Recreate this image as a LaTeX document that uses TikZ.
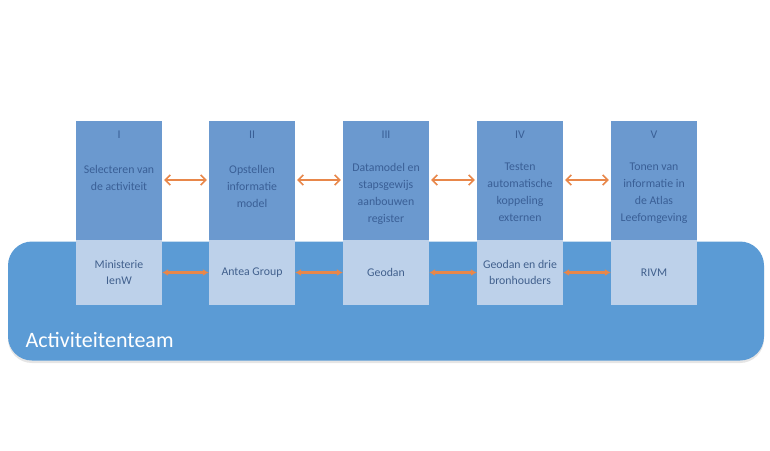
\documentclass[tikz,border=0pt]{standalone}
\usepackage{fontspec}
\setmainfont{Carlito}
\usepackage{xcolor}
\usepackage{tikz}
\usetikzlibrary{arrows.meta}
\definecolor{teamBlue}{HTML}{5B9BD5}
\definecolor{stageBlue}{HTML}{6B99CF}
\definecolor{orgBlue}{HTML}{BDD1EA}
\definecolor{textNavy}{HTML}{3A5F96}
\definecolor{orgNavy}{HTML}{41608D}
\definecolor{linkOrange}{HTML}{E8874A}

\begin{document}
\begin{tikzpicture}[x=1pt, y=-1pt,
    stagebox/.style={fill=stageBlue, minimum width=86pt, minimum height=119pt, inner sep=0pt},
    orgbox/.style={fill=orgBlue, minimum width=86pt, minimum height=65pt, inner sep=0pt,
      align=center, text=orgNavy, font=\fontsize{11.8}{15.5}\selectfont},
    stagetxt/.style={anchor=north, align=center, text=textNavy, inner sep=0pt,
      font=\fontsize{11.8}{17}\selectfont},
    steplink/.style={{Straight Barb[length=5pt,width=10pt]}-{Straight Barb[length=5pt,width=10pt]},
      line width=1.6pt, linkOrange},
    orglink/.style={{Latex[length=6pt,width=7pt]}-{Latex[length=6pt,width=7pt]},
      line width=2.6pt, linkOrange}]
  \useasboundingbox (0,0) rectangle (770,450);

  % team background
  \node[fill=black!25, opacity=0.4, rounded corners=24pt, minimum width=756pt, minimum height=119pt] (shadow) at (386,303.5) {};
  \node[fill=teamBlue, rounded corners=24pt, minimum width=756pt, minimum height=119pt] (team) at (386,301) {};
  \node[anchor=west, text=white, font=\fontsize{22}{22}\selectfont] (teamlbl) at (22,340) {Activiteitenteam};

  % stages
  \node[stagebox] (s1) at (119,180.5) {};
  \node[stagebox] (s2) at (252,180.5) {};
  \node[stagebox] (s3) at (386,180.5) {};
  \node[stagebox] (s4) at (520,180.5) {};
  \node[stagebox] (s5) at (654,180.5) {};

  \node[stagetxt] (n1) at (119,131) {I};
  \node[stagetxt] (n2) at (252,131) {II};
  \node[stagetxt] (n3) at (386,131) {III};
  \node[stagetxt] (n4) at (520,131) {IV};
  \node[stagetxt] (n5) at (654,131) {V};

  \node[stagetxt] (d1) at (119,165) {Selecteren van\\de activiteit};
  \node[stagetxt] (d2) at (252,165) {Opstellen\\informatie\\model};
  \node[stagetxt] (d3) at (386,163) {Datamodel en\\stapsgewijs\\aanbouwen\\register};
  \node[stagetxt] (d4) at (520,163) {Testen\\automatische\\koppeling\\externen};
  \node[stagetxt] (d5) at (654,163) {Tonen van\\informatie in\\de Atlas\\Leefomgeving};

  % parties
  \node[orgbox] (o1) at (119,272.5) {Ministerie\\IenW};
  \node[orgbox] (o2) at (252,272.5) {Antea Group};
  \node[orgbox] (o3) at (386,272.5) {Geodan};
  \node[orgbox] (o4) at (520,272.5) {Geodan en drie\\bronhouders};
  \node[orgbox] (o5) at (654,272.5) {RIVM};

  \draw[steplink] ([xshift=2pt,yshift=0.5pt]s1.east) -- ([xshift=-2pt,yshift=0.5pt]s2.west);
  \draw[steplink] ([xshift=2pt,yshift=0.5pt]s2.east) -- ([xshift=-2pt,yshift=0.5pt]s3.west);
  \draw[steplink] ([xshift=2pt,yshift=0.5pt]s3.east) -- ([xshift=-2pt,yshift=0.5pt]s4.west);
  \draw[steplink] ([xshift=2pt,yshift=0.5pt]s4.east) -- ([xshift=-2pt,yshift=0.5pt]s5.west);

  \draw[orglink] (o1.east) -- (o2.west);
  \draw[orglink] (o2.east) -- (o3.west);
  \draw[orglink] (o3.east) -- (o4.west);
  \draw[orglink] (o4.east) -- (o5.west);
\end{tikzpicture}
\end{document}
